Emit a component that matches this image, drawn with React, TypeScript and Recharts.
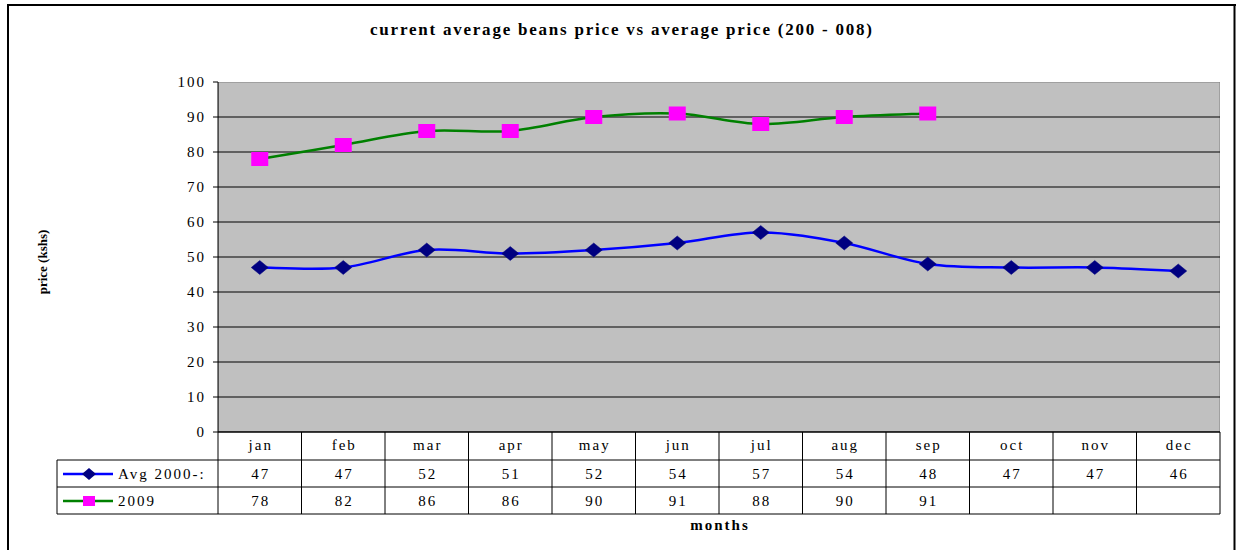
import React from 'react';
import { LineChart, Line, XAxis, YAxis, ReferenceArea, ReferenceLine } from 'recharts';

const months = ['jan', 'feb', 'mar', 'apr', 'may', 'jun', 'jul', 'aug', 'sep', 'oct', 'nov', 'dec'];
const avgValues: (number | null)[] = [47, 47, 52, 51, 52, 54, 57, 54, 48, 47, 47, 46];
const values2009: (number | null)[] = [78, 82, 86, 86, 90, 91, 88, 90, 91, null, null, null];
const seriesNames = ['Avg 2000-:', '2009'];
const yTicks = [0, 10, 20, 30, 40, 50, 60, 70, 80, 90, 100];
const gridValues = [10, 20, 30, 40, 50, 60, 70, 80, 90];
const title = 'current average beans price vs average price (200 - 008)';
const yTitle = 'price (kshs)';
const xTitle = 'months';

const data = months.map((m, i) => ({ month: m, avg: avgValues[i], y2009: values2009[i] }));

const W = 1237;
const H = 550;
const PL = 218;
const PR = 1220;
const PT = 82;
const PB = 432;
const TABLE_H = 82;
const ROW1 = 460;
const ROW2 = 487;
const ROW3 = 514;
const LEG_L = 57;
const colW = (PR - PL) / months.length;
const FONT = 'Liberation Serif, DejaVu Serif, serif';

const BLUE = '#0000FF';
const NAVY = '#000080';
const GREEN = '#008000';
const MAGENTA = '#FF00FF';

// Excel-like smoothed line (Catmull-Rom style Bezier)
const excelCurve: any = (context: any) => {
  let pts: [number, number][] = [];
  return {
    areaStart() {},
    areaEnd() {},
    lineStart() {
      pts = [];
    },
    point(x: number, y: number) {
      pts.push([+x, +y]);
    },
    lineEnd() {
      const n = pts.length;
      if (!n) return;
      context.moveTo(pts[0][0], pts[0][1]);
      for (let i = 0; i < n - 1; i++) {
        const p0 = pts[Math.max(0, i - 1)];
        const p1 = pts[i];
        const p2 = pts[i + 1];
        const p3 = pts[Math.min(n - 1, i + 2)];
        context.bezierCurveTo(
          p1[0] + (p2[0] - p0[0]) / 6,
          p1[1] + (p2[1] - p0[1]) / 6,
          p2[0] - (p3[0] - p1[0]) / 6,
          p2[1] - (p3[1] - p1[1]) / 6,
          p2[0],
          p2[1]
        );
      }
    },
  };
};

const txt = (extra: any = {}) => ({ fontFamily: FONT, fill: '#000', ...extra });

const DiamondDot = (props: any) => {
  const { cx, cy, index } = props;
  if (cx == null || cy == null || props.value == null) return <g key={`d${index}`} />;
  return (
    <path
      key={`d${index}`}
      d={`M${cx - 8.5},${cy} L${cx},${cy - 7} L${cx + 8.5},${cy} L${cx},${cy + 7} Z`}
      fill={NAVY}
      stroke={NAVY}
      strokeWidth={0.5}
    />
  );
};

const SquareDot = (props: any) => {
  const { cx, cy, index } = props;
  if (cx == null || cy == null || props.value == null) return <g key={`s${index}`} />;
  return <rect key={`s${index}`} x={cx - 8.5} y={cy - 7} width={17} height={14} fill={MAGENTA} />;
};

const CellText = ({ x, y, children }: any) => (
  <text x={x + 1} y={y} textAnchor="middle" dominantBaseline="central" fontSize={15} letterSpacing={2} fontFamily={FONT} style={txt()}>
    {children}
  </text>
);

const TableTick = (props: any) => {
  const { x, y, payload } = props;
  const i = payload.index;
  const left = x - colW / 2;
  const right = x + colW / 2;
  const a = avgValues[i];
  const b = values2009[i];
  return (
    <g>
      <line x1={left} y1={y} x2={left} y2={y + TABLE_H} stroke="#000" strokeWidth={1} />
      {i === months.length - 1 && (
        <line x1={right} y1={y} x2={right} y2={y + TABLE_H} stroke="#000" strokeWidth={1} />
      )}
      <CellText x={x} y={y + 13}>{payload.value}</CellText>
      {a != null && <CellText x={x} y={y + 42}>{a}</CellText>}
      {b != null && <CellText x={x} y={y + 69}>{b}</CellText>}
    </g>
  );
};

const YTick = (props: any) => {
  const { x, y, payload } = props;
  return (
    <text x={x + 2} y={y} textAnchor="end" dominantBaseline="central" fontSize={15} letterSpacing={2} fontFamily={FONT} style={txt()}>
      {payload.value}
    </text>
  );
};

export default function App() {
  return (
    <div style={{ position: 'absolute', left: 0, top: 0, width: W, height: H, background: '#fff', overflow: 'hidden' }}>
      <LineChart
        width={W}
        height={H}
        data={data}
        margin={{ top: PT, right: W - PR, left: PL - 60, bottom: H - PB - TABLE_H }}
      >
        <XAxis
          dataKey="month"
          scale="band"
          height={TABLE_H}
          tickSize={0}
          tickMargin={0}
          axisLine={{ stroke: '#000', strokeWidth: 1.5 }}
          tickLine={false}
          tick={<TableTick />}
          interval={0}
        />
        <YAxis
          width={60}
          domain={[0, 100]}
          ticks={yTicks}
          interval={0}
          tickSize={5}
          tickMargin={9}
          axisLine={{ stroke: '#000' }}
          tickLine={{ stroke: '#000' }}
          tick={<YTick />}
        />
        <ReferenceArea y1={0} y2={100} fill="#C0C0C0" fillOpacity={1} stroke="#808080" strokeWidth={1} ifOverflow="hidden" />
        {gridValues.map((v) => (
          <ReferenceLine key={v} y={v} stroke="#000" strokeWidth={1} />
        ))}
        <Line
          dataKey="avg"
          name={seriesNames[0]}
          type={excelCurve}
          stroke={BLUE}
          strokeWidth={2.5}
          dot={DiamondDot}
          activeDot={false}
          isAnimationActive={false}
        />
        <Line
          dataKey="y2009"
          name={seriesNames[1]}
          type={excelCurve}
          stroke={GREEN}
          strokeWidth={2.5}
          dot={SquareDot}
          activeDot={false}
          isAnimationActive={false}
        />
      </LineChart>
      <svg width={W} height={H} style={{ position: 'absolute', left: 0, top: 0, pointerEvents: 'none' }}>
        <line x1={7} y1={5} x2={1236} y2={5} stroke="#000" strokeWidth={2} />
        <line x1={8} y1={4} x2={8} y2={H} stroke="#000" strokeWidth={2} />
        <line x1={1234.5} y1={4} x2={1234.5} y2={H} stroke="#000" strokeWidth={2} />
        <text x={621} y={29} textAnchor="middle" dominantBaseline="central" fontSize={17} fontWeight="bold" fontFamily={FONT} textLength={502} lengthAdjust="spacing" style={txt()}>
          {title}
        </text>
        <text
          x={42}
          y={262}
          transform="rotate(-90 42 262)"
          textAnchor="middle"
          dominantBaseline="central"
          fontSize={13}
          fontWeight="bold"
          fontFamily={FONT}
          style={txt()}
        >
          {yTitle}
        </text>
        <text x={(PL + PR) / 2 + 1} y={525} textAnchor="middle" dominantBaseline="central" fontSize={15} fontWeight="bold" letterSpacing={2} fontFamily={FONT} style={txt()}>
          {xTitle}
        </text>
        {[ROW1, ROW2, ROW3].map((yy) => (
          <line key={yy} x1={LEG_L} y1={yy} x2={PR} y2={yy} stroke="#000" strokeWidth={1} />
        ))}
        <line x1={LEG_L} y1={ROW1} x2={LEG_L} y2={ROW3} stroke="#000" strokeWidth={1} />
        <line x1={63} y1={474} x2={113} y2={474} stroke={BLUE} strokeWidth={2.5} />
        <path d="M82,474 L89,468 L96,474 L89,480 Z" fill={NAVY} />
        <text x={118} y={474} dominantBaseline="central" fontSize={15} letterSpacing={2} fontFamily={FONT} style={txt()}>
          {seriesNames[0]}
        </text>
        <line x1={63} y1={501} x2={113} y2={501} stroke={GREEN} strokeWidth={2.5} />
        <rect x={83} y={496} width={12} height={10} fill={MAGENTA} />
        <text x={118} y={501} dominantBaseline="central" fontSize={15} letterSpacing={2} fontFamily={FONT} style={txt()}>
          {seriesNames[1]}
        </text>
      </svg>
    </div>
  );
}
